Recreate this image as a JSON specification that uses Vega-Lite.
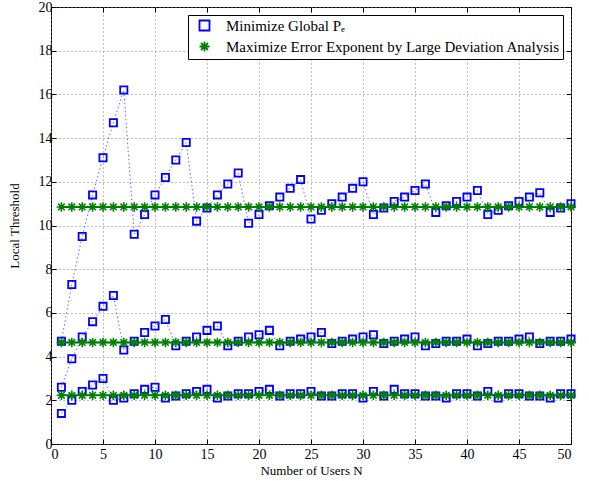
{
  "$schema": "https://vega.github.io/schema/vega-lite/v6.json",
  "width": 520,
  "height": 437,
  "autosize": {"type": "none"},
  "padding": {"left": 51, "top": 7, "right": 18, "bottom": 37},
  "background": "white",
  "datasets": {
    "pe": [
      {"n":1,"u":4.7,"m":2.6,"l":1.4,"method":"Minimize Global Pₑ"},
      {"n":2,"u":7.3,"m":3.9,"l":2.0,"method":"Minimize Global Pₑ"},
      {"n":3,"u":9.5,"m":4.9,"l":2.4,"method":"Minimize Global Pₑ"},
      {"n":4,"u":11.4,"m":5.6,"l":2.7,"method":"Minimize Global Pₑ"},
      {"n":5,"u":13.1,"m":6.3,"l":3.0,"method":"Minimize Global Pₑ"},
      {"n":6,"u":14.7,"m":6.8,"l":2.0,"method":"Minimize Global Pₑ"},
      {"n":7,"u":16.2,"m":4.3,"l":2.1,"method":"Minimize Global Pₑ"},
      {"n":8,"u":9.6,"m":4.7,"l":2.3,"method":"Minimize Global Pₑ"},
      {"n":9,"u":10.5,"m":5.1,"l":2.5,"method":"Minimize Global Pₑ"},
      {"n":10,"u":11.4,"m":5.4,"l":2.6,"method":"Minimize Global Pₑ"},
      {"n":11,"u":12.2,"m":5.7,"l":2.1,"method":"Minimize Global Pₑ"},
      {"n":12,"u":13.0,"m":4.5,"l":2.2,"method":"Minimize Global Pₑ"},
      {"n":13,"u":13.8,"m":4.7,"l":2.3,"method":"Minimize Global Pₑ"},
      {"n":14,"u":10.2,"m":4.9,"l":2.4,"method":"Minimize Global Pₑ"},
      {"n":15,"u":10.8,"m":5.2,"l":2.5,"method":"Minimize Global Pₑ"},
      {"n":16,"u":11.4,"m":5.4,"l":2.1,"method":"Minimize Global Pₑ"},
      {"n":17,"u":11.9,"m":4.5,"l":2.2,"method":"Minimize Global Pₑ"},
      {"n":18,"u":12.4,"m":4.7,"l":2.3,"method":"Minimize Global Pₑ"},
      {"n":19,"u":10.1,"m":4.9,"l":2.3,"method":"Minimize Global Pₑ"},
      {"n":20,"u":10.5,"m":5.0,"l":2.4,"method":"Minimize Global Pₑ"},
      {"n":21,"u":10.9,"m":5.2,"l":2.5,"method":"Minimize Global Pₑ"},
      {"n":22,"u":11.3,"m":4.5,"l":2.2,"method":"Minimize Global Pₑ"},
      {"n":23,"u":11.7,"m":4.7,"l":2.3,"method":"Minimize Global Pₑ"},
      {"n":24,"u":12.1,"m":4.8,"l":2.3,"method":"Minimize Global Pₑ"},
      {"n":25,"u":10.3,"m":4.9,"l":2.4,"method":"Minimize Global Pₑ"},
      {"n":26,"u":10.7,"m":5.1,"l":2.2,"method":"Minimize Global Pₑ"},
      {"n":27,"u":11.0,"m":4.6,"l":2.2,"method":"Minimize Global Pₑ"},
      {"n":28,"u":11.3,"m":4.7,"l":2.3,"method":"Minimize Global Pₑ"},
      {"n":29,"u":11.7,"m":4.8,"l":2.3,"method":"Minimize Global Pₑ"},
      {"n":30,"u":12.0,"m":4.9,"l":2.1,"method":"Minimize Global Pₑ"},
      {"n":31,"u":10.5,"m":5.0,"l":2.4,"method":"Minimize Global Pₑ"},
      {"n":32,"u":10.8,"m":4.6,"l":2.2,"method":"Minimize Global Pₑ"},
      {"n":33,"u":11.1,"m":4.7,"l":2.5,"method":"Minimize Global Pₑ"},
      {"n":34,"u":11.3,"m":4.8,"l":2.3,"method":"Minimize Global Pₑ"},
      {"n":35,"u":11.6,"m":4.9,"l":2.3,"method":"Minimize Global Pₑ"},
      {"n":36,"u":11.9,"m":4.5,"l":2.2,"method":"Minimize Global Pₑ"},
      {"n":37,"u":10.6,"m":4.6,"l":2.2,"method":"Minimize Global Pₑ"},
      {"n":38,"u":10.9,"m":4.7,"l":2.1,"method":"Minimize Global Pₑ"},
      {"n":39,"u":11.1,"m":4.7,"l":2.3,"method":"Minimize Global Pₑ"},
      {"n":40,"u":11.3,"m":4.8,"l":2.3,"method":"Minimize Global Pₑ"},
      {"n":41,"u":11.6,"m":4.5,"l":2.2,"method":"Minimize Global Pₑ"},
      {"n":42,"u":10.5,"m":4.6,"l":2.4,"method":"Minimize Global Pₑ"},
      {"n":43,"u":10.7,"m":4.7,"l":2.1,"method":"Minimize Global Pₑ"},
      {"n":44,"u":10.9,"m":4.7,"l":2.3,"method":"Minimize Global Pₑ"},
      {"n":45,"u":11.1,"m":4.8,"l":2.3,"method":"Minimize Global Pₑ"},
      {"n":46,"u":11.3,"m":4.9,"l":2.2,"method":"Minimize Global Pₑ"},
      {"n":47,"u":11.5,"m":4.6,"l":2.2,"method":"Minimize Global Pₑ"},
      {"n":48,"u":10.6,"m":4.7,"l":2.1,"method":"Minimize Global Pₑ"},
      {"n":49,"u":10.8,"m":4.7,"l":2.3,"method":"Minimize Global Pₑ"},
      {"n":50,"u":11.0,"m":4.8,"l":2.3,"method":"Minimize Global Pₑ"}
    ],
    "ld": [
      {"n":1,"u":10.85,"m":4.65,"l":2.23},
      {"n":2,"u":10.85,"m":4.65,"l":2.23},
      {"n":3,"u":10.85,"m":4.65,"l":2.23},
      {"n":4,"u":10.85,"m":4.65,"l":2.23},
      {"n":5,"u":10.85,"m":4.65,"l":2.23},
      {"n":6,"u":10.85,"m":4.65,"l":2.23},
      {"n":7,"u":10.85,"m":4.65,"l":2.23},
      {"n":8,"u":10.85,"m":4.65,"l":2.23},
      {"n":9,"u":10.85,"m":4.65,"l":2.23},
      {"n":10,"u":10.85,"m":4.65,"l":2.23},
      {"n":11,"u":10.85,"m":4.65,"l":2.23},
      {"n":12,"u":10.85,"m":4.65,"l":2.23},
      {"n":13,"u":10.85,"m":4.65,"l":2.23},
      {"n":14,"u":10.85,"m":4.65,"l":2.23},
      {"n":15,"u":10.85,"m":4.65,"l":2.23},
      {"n":16,"u":10.85,"m":4.65,"l":2.23},
      {"n":17,"u":10.85,"m":4.65,"l":2.23},
      {"n":18,"u":10.85,"m":4.65,"l":2.23},
      {"n":19,"u":10.85,"m":4.65,"l":2.23},
      {"n":20,"u":10.85,"m":4.65,"l":2.23},
      {"n":21,"u":10.85,"m":4.65,"l":2.23},
      {"n":22,"u":10.85,"m":4.65,"l":2.23},
      {"n":23,"u":10.85,"m":4.65,"l":2.23},
      {"n":24,"u":10.85,"m":4.65,"l":2.23},
      {"n":25,"u":10.85,"m":4.65,"l":2.23},
      {"n":26,"u":10.85,"m":4.65,"l":2.23},
      {"n":27,"u":10.85,"m":4.65,"l":2.23},
      {"n":28,"u":10.85,"m":4.65,"l":2.23},
      {"n":29,"u":10.85,"m":4.65,"l":2.23},
      {"n":30,"u":10.85,"m":4.65,"l":2.23},
      {"n":31,"u":10.85,"m":4.65,"l":2.23},
      {"n":32,"u":10.85,"m":4.65,"l":2.23},
      {"n":33,"u":10.85,"m":4.65,"l":2.23},
      {"n":34,"u":10.85,"m":4.65,"l":2.23},
      {"n":35,"u":10.85,"m":4.65,"l":2.23},
      {"n":36,"u":10.85,"m":4.65,"l":2.23},
      {"n":37,"u":10.85,"m":4.65,"l":2.23},
      {"n":38,"u":10.85,"m":4.65,"l":2.23},
      {"n":39,"u":10.85,"m":4.65,"l":2.23},
      {"n":40,"u":10.85,"m":4.65,"l":2.23},
      {"n":41,"u":10.85,"m":4.65,"l":2.23},
      {"n":42,"u":10.85,"m":4.65,"l":2.23},
      {"n":43,"u":10.85,"m":4.65,"l":2.23},
      {"n":44,"u":10.85,"m":4.65,"l":2.23},
      {"n":45,"u":10.85,"m":4.65,"l":2.23},
      {"n":46,"u":10.85,"m":4.65,"l":2.23},
      {"n":47,"u":10.85,"m":4.65,"l":2.23},
      {"n":48,"u":10.85,"m":4.65,"l":2.23},
      {"n":49,"u":10.85,"m":4.65,"l":2.23},
      {"n":50,"u":10.85,"m":4.65,"l":2.23}
    ]
  },
  "layer": [
    {
      "data": {"name": "pe"},
      "transform": [{"fold": ["u", "m", "l"], "as": ["s", "v"]}],
      "mark": {"type": "line", "color": "#0000ff", "strokeWidth": 1, "strokeDash": [1.5, 2.5], "opacity": 0.6},
      "encoding": {
        "x": {"field": "n", "type": "quantitative", "scale": {"domain": [0, 50], "nice": false},
              "axis": {"orient": "bottom", "title": "Number of Users N", "values": [0,5,10,15,20,25,30,35,40,45,50], "grid": true}},
        "y": {"field": "v", "type": "quantitative", "scale": {"domain": [0, 20], "nice": false},
              "axis": {"orient": "left", "title": "Local Threshold", "values": [0,2,4,6,8,10,12,14,16,18,20], "grid": true}},
        "detail": {"field": "s"}
      }
    },
    {
      "data": {"name": "pe"},
      "transform": [{"fold": ["u", "m", "l"], "as": ["s", "v"]}],
      "mark": {"type": "point", "filled": false, "strokeWidth": 1.8, "size": 52, "opacity": 1},
      "encoding": {
        "x": {"field": "n", "type": "quantitative",
              "axis": {"orient": "top", "title": null, "labels": false, "grid": false, "values": [0,5,10,15,20,25,30,35,40,45,50]}},
        "y": {"field": "v", "type": "quantitative",
              "axis": {"orient": "right", "title": null, "labels": false, "grid": false, "values": [0,2,4,6,8,10,12,14,16,18,20]}},
        "color": {"field": "method", "type": "nominal", "title": null,
                  "scale": {"domain": ["Minimize Global Pₑ", "Maximize Error Exponent by Large Deviation Analysis"], "range": ["#0000ff", "#007f00"]}},
        "shape": {"field": "method", "type": "nominal", "title": null,
                  "scale": {"domain": ["Minimize Global Pₑ", "Maximize Error Exponent by Large Deviation Analysis"],
                            "range": ["square", "M-1,0H1M0,-1V1M-0.7,-0.7L0.7,0.7M-0.7,0.7L0.7,-0.7"]}}
      }
    },
    {
      "data": {"name": "ld"},
      "transform": [{"fold": ["u", "m", "l"], "as": ["s", "v"]}],
      "mark": {"type": "line", "color": "#007f00", "strokeWidth": 2},
      "encoding": {
        "x": {"field": "n", "type": "quantitative", "axis": null},
        "y": {"field": "v", "type": "quantitative", "axis": null},
        "detail": {"field": "s"}
      }
    },
    {
      "data": {"name": "ld"},
      "transform": [{"fold": ["u", "m", "l"], "as": ["s", "v"]}],
      "mark": {"type": "point", "filled": false, "color": "#007f00", "shape": "M-1,0H1M0,-1V1M-0.7,-0.7L0.7,0.7M-0.7,0.7L0.7,-0.7", "strokeWidth": 1.6, "size": 90, "opacity": 1},
      "encoding": {
        "x": {"field": "n", "type": "quantitative", "axis": null},
        "y": {"field": "v", "type": "quantitative", "axis": null}
      }
    }
  ],
  "resolve": {"axis": {"x": "independent", "y": "independent"}},
  "config": {
    "font": "Liberation Serif",
    "view": {"stroke": "#000", "strokeWidth": 1},
    "axis": {
      "domain": false,
      "tickColor": "#000",
      "tickSize": -5,
      "tickWidth": 1,
      "labelFont": "Liberation Serif",
      "labelFontSize": 14,
      "labelColor": "#000",
      "titleFont": "Liberation Serif",
      "titleFontSize": 13,
      "titleFontWeight": "normal",
      "titleColor": "#000",
      "gridColor": "#7f7f7f",
      "gridDash": [1, 3],
      "gridWidth": 1,
      "gridOpacity": 1
    },
    "axisBottom": {"labelPadding": 8, "titlePadding": 3},
    "axisLeft": {"labelPadding": 4, "titlePadding": 17},
    "legend": {
      "orient": "top-right",
      "offset": 8,
      "strokeColor": "#000",
      "fillColor": "#fff",
      "strokeWidth": 1,
      "padding": 3,
      "labelFont": "Liberation Serif",
      "labelFontSize": 15,
      "labelColor": "#000",
      "labelLimit": 500,
      "symbolSize": 100,
      "symbolStrokeWidth": 1.8,
      "symbolOffset": 6,
      "labelOffset": 14,
      "rowPadding": 2
    }
  }
}
